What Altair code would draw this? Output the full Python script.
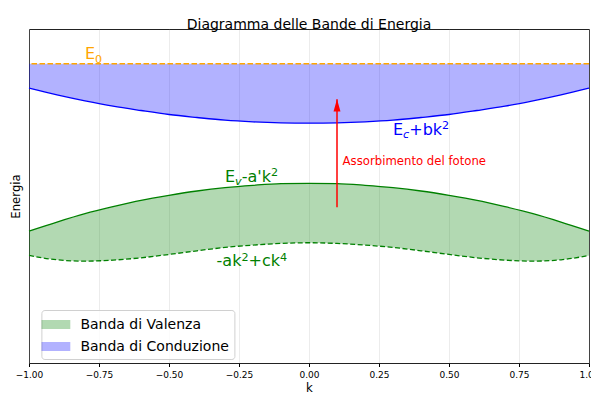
import altair as alt
import pandas as pd

# ---------------- data ----------------
k_vals = [-1.0, -0.9, -0.8, -0.7, -0.6, -0.5, -0.4, -0.3, -0.2, -0.1, 0.0,
          0.1, 0.2, 0.3, 0.4, 0.5, 0.6, 0.7, 0.8, 0.9, 1.0]
# conduction band lower edge  (E_c + b k^2)
cond_vals = [8.23, 8.03, 7.85, 7.69, 7.56, 7.44, 7.35, 7.27, 7.22, 7.19, 7.18,
             7.19, 7.22, 7.27, 7.35, 7.44, 7.56, 7.69, 7.85, 8.03, 8.23]
# valence band upper edge (E_v - a'k^2)
val_top = [3.95, 4.22, 4.47, 4.68, 4.87, 5.02, 5.15, 5.25, 5.32, 5.37, 5.38,
           5.37, 5.32, 5.25, 5.15, 5.02, 4.87, 4.68, 4.47, 4.22, 3.95]
# valence band lower edge (-a k^2 + c k^4)
val_bot = [3.22, 3.09, 3.05, 3.08, 3.15, 3.25, 3.36, 3.46, 3.53, 3.58, 3.60,
           3.58, 3.53, 3.46, 3.36, 3.25, 3.15, 3.08, 3.05, 3.09, 3.22]
E0 = 8.96

band_names = ["Banda di Valenza", "Banda di Conduzione"]
band_colors = ["green", "blue"]

arrow_k = 0.1
arrow_from = 4.66
arrow_to = 7.90

x_ticks = [-1.0, -0.75, -0.5, -0.25, 0.0, 0.25, 0.5, 0.75, 1.0]

# annotation labels: (x, y, color, pieces)  pieces: (text, kind)
labels = [
    (-0.80, 9.09, "#FFA500", [("E", "n"), ("0", "sub")]),
    (0.30, 6.83, "blue", [("E", "n"), ("c", "subi"), ("+bk", "n"), ("2", "sup")]),
    (-0.30, 5.43, "green", [("E", "n"), ("v", "subi"), ("-a'k", "n"), ("2", "sup")]),
    (-0.33, 2.90, "green", [("-ak", "n"), ("2", "sup"), ("+ck", "n"), ("4", "sup")]),
]
photon_text = "Assorbimento del fotone"
photon_x, photon_y = 0.12, 5.93

# ---------------- layout constants ----------------
W, H = 560, 334
FONT = "DejaVu Sans"
MAIN = 16.0
SMALL = 11.2
EM = {"E": 0.632, "0": 0.636, "c": 0.550, "+": 0.838, "b": 0.635, "k": 0.579,
      "2": 0.636, "v": 0.592, "-": 0.361, "a": 0.613, "'": 0.275, "4": 0.636}

# ---------------- tables ----------------
area_rows = []
for k, lo, hi in zip(k_vals, val_bot, val_top):
    area_rows.append({"k": k, "lo": lo, "hi": hi, "band": band_names[0]})
for k, lo in zip(k_vals, cond_vals):
    area_rows.append({"k": k, "lo": lo, "hi": E0, "band": band_names[1]})
areas = pd.DataFrame(area_rows)

solid = pd.DataFrame(
    [{"k": k, "y": v, "curve": "c", "col": "blue"} for k, v in zip(k_vals, cond_vals)]
    + [{"k": k, "y": v, "curve": "v", "col": "green"} for k, v in zip(k_vals, val_top)]
)
dashed = pd.DataFrame({"k": k_vals, "y": val_bot})

px_to_k = 2.0 / W
txt_rows = []
for (x0, y0, col, pieces) in labels:
    off = 0.0
    for t, kind in pieces:
        size = MAIN if kind == "n" else SMALL
        txt_rows.append({"x": x0 + off * px_to_k, "y": y0, "t": t, "col": col, "kind": kind})
        off += sum(EM.get(ch, 0.6) for ch in t) * size
texts = pd.DataFrame(txt_rows)

xsc = alt.Scale(domain=[-1, 1], nice=False, zero=False)
ysc = alt.Scale(domain=[0, 10], nice=False, zero=False)

X = alt.X("k:Q", scale=xsc, title="k",
          axis=alt.Axis(values=x_ticks, format=".2f", grid=True))
Y = alt.Y("lo:Q", scale=ysc, title="Energia",
          axis=alt.Axis(labels=False, ticks=False, grid=False, domain=False))

area = alt.Chart(areas).mark_area(opacity=0.3, interpolate="monotone").encode(
    x=X,
    y=Y,
    y2="hi:Q",
    fill=alt.Fill("band:N", scale=alt.Scale(domain=band_names, range=band_colors),
                  legend=alt.Legend(title=None, orient="none", legendX=12.4, legendY=281,
                                    symbolType="M-1.6,-0.5L1.6,-0.5L1.6,0.5L-1.6,0.5Z",
                                    symbolSize=324, symbolOpacity=0.3,
                                    symbolStrokeWidth=0,
                                    labelFontSize=14, labelFont=FONT, labelColor="black",
                                    labelOffset=15.5, rowPadding=6, padding=5.5,
                                    labelLimit=400,
                                    fillColor="rgba(255,255,255,0.8)",
                                    strokeColor="#d0d0d0", cornerRadius=3)),
)

lines = alt.Chart(solid).mark_line(strokeWidth=1.3, interpolate="monotone").encode(
    x=alt.X("k:Q", scale=xsc), y=alt.Y("y:Q", scale=ysc),
    color=alt.Color("col:N", scale=None), detail="curve:N")

dline = alt.Chart(dashed).mark_line(strokeWidth=1.3, interpolate="monotone",
                                    strokeDash=[5, 2.5], color="green").encode(
    x=alt.X("k:Q", scale=xsc), y=alt.Y("y:Q", scale=ysc))

e0line = alt.Chart(pd.DataFrame({"E0": [E0]})).mark_rule(
    strokeDash=[5.5, 2.5], color="#FFA500", strokeWidth=1.5).encode(
    y=alt.Y("E0:Q", scale=ysc))

arrow_df = pd.DataFrame({"k": [arrow_k], "a": [arrow_from], "b": [arrow_to]})
arrow_line = alt.Chart(arrow_df).mark_rule(color="red", strokeWidth=1.5).encode(
    x=alt.X("k:Q", scale=xsc), y=alt.Y("a:Q", scale=ysc), y2="b:Q")
arrow_head = alt.Chart(arrow_df).mark_point(
    shape="M0,0L0.28,1L-0.28,1Z", size=615, filled=True, color="red", opacity=1).encode(
    x=alt.X("k:Q", scale=xsc), y=alt.Y("b:Q", scale=ysc))


def text_layer(kind, size, dy, style="normal"):
    return alt.Chart(texts).transform_filter(alt.datum.kind == kind).mark_text(
        align="left", baseline="alphabetic", font=FONT, fontSize=size, dy=dy,
        fontStyle=style).encode(
        x=alt.X("x:Q", scale=xsc), y=alt.Y("y:Q", scale=ysc),
        text="t:N", color=alt.Color("col:N", scale=None))


t_main = text_layer("n", MAIN, 0)
t_sub = text_layer("sub", SMALL, 3.3)
t_subi = text_layer("subi", SMALL, 3.3, "italic")
t_sup = text_layer("sup", SMALL, -5.5)

photon = alt.Chart(pd.DataFrame({"x": [photon_x], "y": [photon_y], "t": [photon_text]})).mark_text(
    align="left", baseline="alphabetic", font=FONT, fontSize=11.7, color="red").encode(
    x=alt.X("x:Q", scale=xsc), y=alt.Y("y:Q", scale=ysc), text="t:N")

chart = alt.layer(area, lines, dline, e0line, arrow_line, arrow_head,
                  t_main, t_sub, t_subi, t_sup, photon).properties(
    width=W, height=H,
    title=alt.TitleParams("Diagramma delle Bande di Energia", fontSize=14, font=FONT,
                          fontWeight="normal", color="black", anchor="middle",
                          baseline="alphabetic", offset=6, dy=19.5),
    autosize=alt.AutoSizeParams(type="none"),
    padding={"left": 21, "top": 21, "right": 2, "bottom": 31},
).configure_view(stroke="#222", strokeWidth=1).configure_axis(
    labelFont=FONT, titleFont=FONT, labelColor="black", titleColor="black",
    titleFontWeight="normal", titleFontSize=11.7, labelFontSize=9,
    tickColor="black", tickSize=3.5, labelPadding=4,
    gridColor="#b0b0b0", gridOpacity=0.3, gridWidth=0.8,
).configure_axisX(domain=False, titlePadding=3, labelFlush=False
).configure_axisY(titlePadding=8)

chart.save("out.html", embed_options={"renderer": "svg", "actions": False})
